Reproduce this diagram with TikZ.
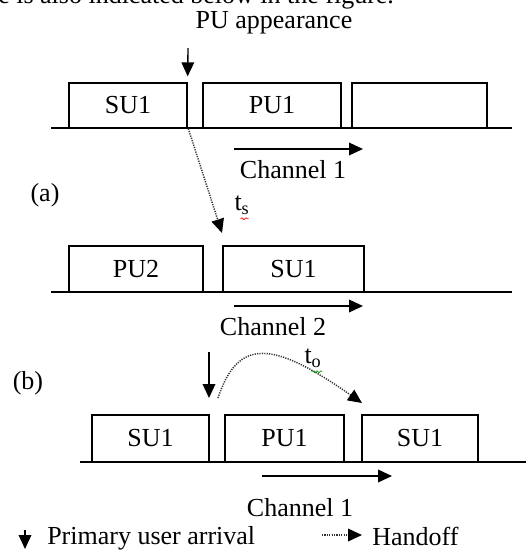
\documentclass[tikz,border=0pt]{standalone}
\usepackage{fontspec}
\setmainfont{Liberation Serif}
\usetikzlibrary{arrows.meta, positioning, decorations.pathmorphing}

\begin{document}
\begin{tikzpicture}[
            x=0.75pt, y=-0.75pt,
            every node/.style={font=\fontsize{19.5}{22}\selectfont, inner sep=0pt},
            slot/.style={rectangle, draw, line width=1pt, inner sep=0pt},
            base/.style={line width=1pt},
            arrow/.style={-{Triangle[length=10.5pt, width=9.5pt]}, line width=1pt},
            handoff/.style={-{Triangle[length=10.5pt, width=9.5pt, black]}, line width=1.1pt, dash pattern=on 0.9pt off 0.9pt, black!80},
            squiggle/.style={decorate, decoration={snake, amplitude=0.7pt, segment length=3pt}, line width=0.5pt}
        ]
            \useasboundingbox (0,0) rectangle (526,551);
            \node[anchor=base west] (cut) at (-2,3) {e is also indicated below in the figure.};
            \node[anchor=base] (appear) at (274,28) {PU appearance};
            % (a) channel 1
            \node[slot, minimum width=88.5pt, minimum height=33.75pt] (a1) at (128,105.5) {SU1};
            \node[slot, minimum width=103.5pt, minimum height=33.75pt] (a2) at (272,105.5) {PU1};
            \node[slot, minimum width=101.25pt, minimum height=33.75pt] (a3) at (419.5,105.5) {};
            \coordinate (la1) at (51,128);
            \coordinate (lb1) at (512,128);
            \draw[base] (la1) -- (lb1);
            \coordinate (pu1) at (188,48);
            \draw[arrow] (pu1) -- ([yshift=4.5pt]a1.north east);
            \coordinate (ca1) at (234,149);
            \coordinate (cb1) at (363,149);
            \draw[arrow] (ca1) -- (cb1);
            \node (chan1) at (293,170) {Channel 1};
            \node (lab a) at (45,195) {(a)};
            \node (ts) at (242,205) {t\textsubscript{s}};
            \draw[squiggle, red] ([xshift=-1pt, yshift=-3pt]ts.south) -- ([xshift=5pt, yshift=-3pt]ts.south);
            % (a) channel 2
            \node[slot, minimum width=100.5pt, minimum height=34.5pt] (b1) at (136,269) {PU2};
            \node[slot, minimum width=105.75pt, minimum height=34.5pt] (b2) at (293.5,269) {SU1};
            \coordinate (la2) at (51,292);
            \coordinate (lb2) at (512,292);
            \draw[base] (la2) -- (lb2);
            \coordinate (hoa) at (222,233);
            \draw[handoff] ([xshift=0.5pt]a1.south east) -- (hoa);
            \coordinate (ca2) at (234,306);
            \coordinate (cb2) at (363,306);
            \draw[arrow] (ca2) -- (cb2);
            \node (chan2) at (273,327) {Channel 2};
            % (b) channel 1
            \node (lab b) at (28,383) {(b)};
            \node[slot, minimum width=87.75pt, minimum height=35.25pt] (c1) at (150.5,438.5) {SU1};
            \node[slot, minimum width=89.25pt, minimum height=35.25pt] (c2) at (284.5,438.5) {PU1};
            \node[slot, minimum width=87pt, minimum height=35.25pt] (c3) at (420,438.5) {SU1};
            \coordinate (la3) at (80,462);
            \coordinate (lb3) at (526,462);
            \draw[base] (la3) -- (lb3);
            \coordinate (pu2a) at (209,352);
            \coordinate (pu2b) at (209,398);
            \draw[arrow] (pu2a) -- (pu2b);
            \coordinate (hob) at (218,398);
            \coordinate (hoc) at (362,403);
            \draw[handoff] (hob) .. controls (238,338) and (272,340) .. (hoc);
            \node (to) at (313,358) {t\textsubscript{o}};
            \draw[squiggle, green!60!black] ([xshift=-1pt, yshift=-3pt]to.south) -- ([xshift=7pt, yshift=-3pt]to.south);
            \coordinate (ca3) at (262,476);
            \coordinate (cb3) at (392,476);
            \draw[arrow] (ca3) -- (cb3);
            \node (chan3) at (300,508) {Channel 1};
            % legend
            \coordinate (lga) at (25,530);
            \coordinate (lgb) at (25,549);
            \draw[arrow] (lga) -- (lgb);
            \node[anchor=west] (arrival) at (47,538) {Primary user arrival};
            \coordinate (lgc) at (322,535);
            \coordinate (lgd) at (362,535);
            \draw[handoff] (lgc) -- (lgd);
            \node[anchor=west] (hand) at (372,536) {Handoff};
        \end{tikzpicture}
\end{document}
